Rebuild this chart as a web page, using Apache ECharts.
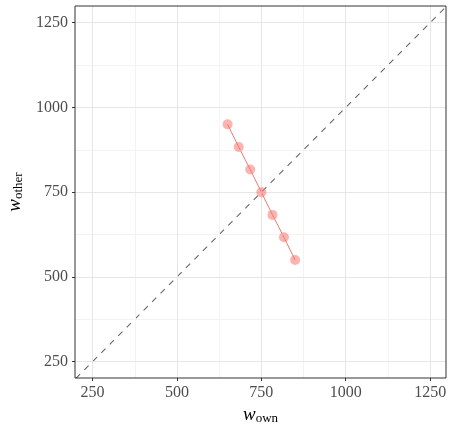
<!DOCTYPE html>
<html>
<head>
<meta charset="utf-8">
<script src="https://cdn.jsdelivr.net/npm/echarts@6/dist/echarts.min.js"></script>
<style>
  html, body { margin: 0; padding: 0; background: #fff; }
  #main { width: 452px; height: 433px; }
</style>
</head>
<body>
<div id="main"></div>
<script>
var chartDom = document.getElementById('main');
var myChart = echarts.init(chartDom);
var option;

// values
const wOwn = [650, 683, 717, 750, 783, 817, 850];
const wOther = [950, 883, 817, 750, 683, 617, 550];
const majorTicks = [250, 500, 750, 1000, 1250];
const minorTicks = [375, 625, 875, 1125];
const diagEnds = [0, 1400];

const fontFamily = '"Liberation Serif", "DejaVu Serif", serif';
const ownColor = '#F8766D';

function gridLines(values, color) {
  let lines = [];
  values.forEach(function (v) {
    lines.push({ xAxis: v });
    lines.push({ yAxis: v });
  });
  return {
    type: 'line',
    data: [],
    silent: true,
    z: 1,
    markLine: {
      silent: true,
      symbol: ['none', 'none'],
      animation: false,
      label: { show: false },
      lineStyle: { color: color, width: 1, type: 'solid' },
      emphasis: { disabled: true },
      data: lines
    }
  };
}

const axisCommon = {
  type: 'value',
  splitLine: { show: false },
  axisLine: { show: false },
  axisTick: {
    show: true,
    length: 3,
    customValues: majorTicks,
    lineStyle: { color: '#333', width: 1 }
  },
  axisLabel: {
    customValues: majorTicks,
    color: '#4d4d4d',
    fontFamily: fontFamily,
    fontSize: 16,
    margin: 7,
    formatter: function (v) { return String(v); }
  },
  nameLocation: 'middle'
};

const nameRich = {
  w: { fontFamily: fontFamily, fontStyle: 'italic', fontSize: 19, color: '#000' },
  s: { fontFamily: fontFamily, fontSize: 13, color: '#000', padding: [7, 0, 0, 0] }
};

option = {
  animation: false,
  grid: {
    left: 75,
    right: 6,
    top: 6,
    bottom: 55,
    containLabel: false,
    outerBoundsMode: 'none',
    show: true,
    borderColor: '#333',
    borderWidth: 1,
    z: 10
  },
  xAxis: Object.assign({}, axisCommon, {
    min: 198,
    max: 1297,
    name: '{w|w}{s|own}',
    nameGap: 27,
    nameTextStyle: { rich: nameRich }
  }),
  yAxis: Object.assign({}, axisCommon, {
    min: 202,
    max: 1299,
    name: '{w|w}{s|other}',
    nameRotate: 90,
    nameGap: 41,
    nameTextStyle: { rich: nameRich }
  }),
  series: [
    gridLines(minorTicks, '#f3f3f3'),
    gridLines(majorTicks, '#e6e6e6'),
    {
      type: 'line',
      data: [[diagEnds[0], diagEnds[0]], [diagEnds[1], diagEnds[1]]],
      showSymbol: false,
      clip: true,
      silent: true,
      z: 3,
      lineStyle: { color: '#666', width: 1.1, type: [6, 6] }
    },
    {
      type: 'line',
      data: wOwn.map(function (x, i) { return [x, wOther[i]]; }),
      showSymbol: false,
      silent: true,
      z: 4,
      lineStyle: { color: ownColor, width: 1 }
    },
    {
      type: 'scatter',
      data: wOwn.map(function (x, i) { return [x, wOther[i]]; }),
      symbolSize: 10,
      silent: true,
      z: 5,
      itemStyle: { color: ownColor, opacity: 0.55 }
    }
  ]
};

option && myChart.setOption(option);
</script>
</body>
</html>
